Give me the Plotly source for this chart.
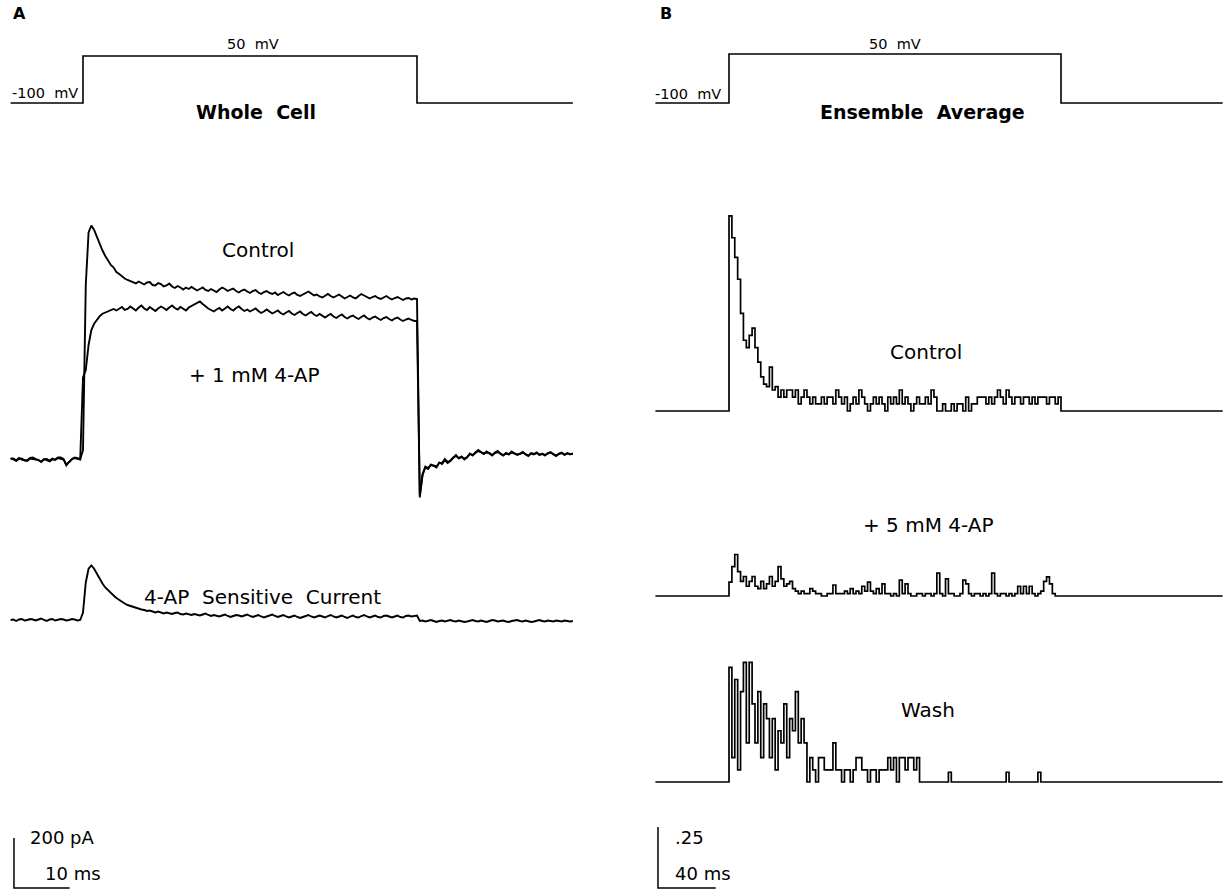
import plotly.graph_objects as go

W, H = 1229, 890
FONT = "DejaVu Sans"
NB = "\u00a0"

# ---------------- Panel A: whole-cell currents (pA), 0.5 ms samples ----------------
A_T0 = -13.0          # first sample, ms relative to step onset
A_DT = 0.5            # sample interval, ms
A_STEP_ON, A_STEP_OFF = 0.0, 60.0
HOLD_MV, STEP_MV = -100, 50

control_a = [
    # holding at -100 mV
    8, 2, -4, 4, 6, -2, 0, 8, 10, 4, -2, -6, 4, 0, -6, 2, 2, 10, 10, 4,
    -22, -8, 4, 10, 8, 4,
    # step to +50 mV
    40, 700, 910, 938, 920, 890, 862, 838, 816, 800,
    780, 770, 752, 744, 733, 726, 720, 716, 712, 706,
    714, 708, 702, 710, 712, 700, 698, 708, 704, 694,
    698, 706, 694, 688, 696, 690, 682, 690, 684, 692,
    686, 678, 684, 690, 680, 676, 684, 678, 672, 682,
    690, 684, 676, 682, 686, 676, 670, 678, 682, 674,
    668, 676, 680, 670, 664, 672, 676, 668, 664, 670,
    660, 666, 672, 664, 658, 666, 670, 660, 656, 662,
    668, 674, 666, 658, 662, 654, 650, 658, 664, 656,
    650, 656, 662, 654, 646, 652, 658, 650, 646, 656,
    664, 658, 652, 646, 652, 656, 648, 644, 650, 656,
    648, 642, 648, 652, 646, 640, 646, 648, 642, 646,
    644,
    # back to -100 mV
    -150, -60, -30, -36, -18, -24, -30, -10, -16, 0,
    -12, -4, 8, 20, 6, 14, 2, 10, 26, 18,
    30, 40, 32, 24, 34, 26, 18, 30, 36, 24,
    18, 28, 22, 34, 28, 20, 26, 32, 22, 16,
    28, 24, 30, 20, 26, 18, 28, 32, 22, 16,
    26, 30, 20, 28, 22, 26,
]

ap1mm_a = [
    4, 6, -2, 8, 2, 0, -4, 6, 4, 2, 0, -8, 2, 4, -2, 6, 0, 8, 6, 2,
    -18, -6, 2, 8, 6, 2,
    330, 360, 460, 520, 545, 562, 575, 585, 590, 596,
    598, 604, 598, 606, 612, 600, 604, 614, 606, 598,
    610, 618, 606, 600, 612, 604, 596, 606, 614, 608,
    600, 610, 618, 608, 602, 612, 604, 598, 610, 616,
    622, 630, 634, 624, 614, 606, 600, 594, 602, 608,
    598, 606, 614, 604, 598, 608, 614, 604, 596, 602,
    594, 600, 606, 596, 588, 594, 602, 594, 586, 592,
    598, 588, 582, 590, 596, 586, 580, 588, 594, 584,
    578, 586, 592, 582, 576, 584, 578, 570, 578, 584,
    574, 568, 576, 582, 572, 566, 574, 578, 570, 564,
    572, 578, 568, 562, 570, 574, 566, 560, 568, 572,
    564, 558, 566, 570, 562, 556, 562, 566, 560, 556,
    556,
    -140, -56, -26, -32, -20, -22, -26, -12, -12, 4,
    -8, -2, 10, 16, 8, 12, 6, 12, 24, 20,
    28, 36, 30, 26, 30, 28, 20, 28, 32, 26,
    20, 26, 24, 30, 26, 22, 24, 30, 24, 18,
    26, 22, 28, 22, 24, 20, 26, 30, 24, 18,
    24, 28, 22, 26, 24, 24,
]

sensitive_a = [
    0, 2, -4, 2, 4, -2, 0, 4, 2, -2, 2, 6, 0, -4, 2, 4, -2, 0, 4, 2,
    -2, 0, 4, 2, -2, 0,
    30, 150, 205, 218, 205, 185, 164, 146, 130, 118,
    108, 98, 88, 80, 72, 66, 60, 56, 52, 48,
    46, 42, 40, 36, 38, 34, 30, 34, 30, 26,
    30, 28, 24, 28, 30, 24, 22, 26, 22, 20,
    24, 22, 18, 22, 26, 20, 16, 20, 18, 14,
    18, 22, 16, 12, 16, 20, 18, 14, 18, 22,
    16, 12, 16, 20, 14, 10, 14, 18, 22, 16,
    12, 16, 20, 14, 10, 14, 18, 12, 8, 12,
    16, 20, 14, 10, 14, 18, 14, 10, 16, 20,
    14, 10, 14, 18, 12, 8, 14, 18, 12, 10,
    16, 20, 14, 10, 14, 18, 12, 10, 16, 18,
    14, 10, 14, 18, 12, 10, 16, 18, 14, 16,
    18,
    -4, -2, -6, -4, 0, -4, -8, -4, -2, -6,
    -2, 0, -4, -6, -2, -4, -8, -6, -2, 0,
    -4, -6, -2, -6, -8, -4, 0, -2, -6, -4,
    -2, -6, -8, -4, -2, 0, -4, -6, -2, -4,
    -8, -6, -2, 0, -4, -6, -2, -4, -6, -2,
    -4, -6, -2, -4, -6, -4,
]

# ------------- Panel B: ensemble-average open probability, 2 ms bins -------------
B_REC_START, B_REC_END = -51.0, 342.0
B_STEP_ON, B_STEP_OFF = 0.0, 230.0
B_DT = 2.0

control_b = [
    0.80, 0.71, 0.63, 0.54, 0.40, 0.29, 0.26, 0.31, 0.34, 0.26,
    0.20, 0.14, 0.11, 0.10, 0.18, 0.086, 0.10, 0.057, 0.086, 0.057,
    0.086, 0.086, 0.057, 0.086, 0.029, 0.057, 0.086, 0.057, 0.029, 0.057,
    0.029, 0.029, 0.057, 0.029, 0.057, 0.057, 0.029, 0.086, 0.057, 0.029,
    0.057, 0.0, 0.029, 0.057, 0.029, 0.086, 0.057, 0.029, 0.0, 0.029,
    0.057, 0.029, 0.057, 0.029, 0.0, 0.057, 0.029, 0.057, 0.029, 0.086,
    0.029, 0.057, 0.029, 0.0, 0.029, 0.057, 0.029, 0.029, 0.057, 0.029,
    0.086, 0.057, 0.0, 0.0, 0.029, 0.0, 0.0, 0.029, 0.0, 0.029,
    0.029, 0.0, 0.057, 0.0, 0.029, 0.029, 0.057, 0.057, 0.057, 0.029,
    0.057, 0.029, 0.057, 0.086, 0.057, 0.029, 0.086, 0.057, 0.029, 0.057,
    0.057, 0.029, 0.057, 0.057, 0.029, 0.057, 0.029, 0.057, 0.057, 0.057,
    0.029, 0.057, 0.057, 0.029, 0.057, 0.0,
]

ap5mm_b = [
    0.057, 0.12, 0.17, 0.10, 0.06, 0.08, 0.04, 0.06, 0.08, 0.04,
    0.03, 0.06, 0.03, 0.05, 0.08, 0.04, 0.06, 0.12, 0.07, 0.04,
    0.05, 0.06, 0.03, 0.02, 0.01, 0.02, 0.01, 0.01, 0.03, 0.02,
    0.01, 0.01, 0.0, 0.0, 0.01, 0.01, 0.045, 0.01, 0.01, 0.01,
    0.02, 0.01, 0.03, 0.01, 0.02, 0.01, 0.04, 0.02, 0.057, 0.02,
    0.01, 0.03, 0.01, 0.05, 0.01, 0.01, 0.0, 0.01, 0.0, 0.065,
    0.01, 0.05, 0.01, 0.0, 0.0, 0.01, 0.01, 0.0, 0.01, 0.01,
    0.0, 0.01, 0.094, 0.01, 0.0, 0.07, 0.01, 0.01, 0.0, 0.0,
    0.01, 0.065, 0.05, 0.01, 0.0, 0.01, 0.01, 0.0, 0.01, 0.0,
    0.01, 0.094, 0.01, 0.0, 0.01, 0.01, 0.0, 0.01, 0.0, 0.01,
    0.04, 0.01, 0.04, 0.01, 0.04, 0.01, 0.0, 0.01, 0.02, 0.06,
    0.078, 0.05, 0.01, 0.0, 0.0, 0.0,
]

wash_b = [
    0.47, 0.10, 0.42, 0.05, 0.37, 0.49, 0.16, 0.49, 0.32, 0.16,
    0.37, 0.10, 0.32, 0.26, 0.10, 0.26, 0.05, 0.21, 0.16, 0.32,
    0.10, 0.26, 0.21, 0.37, 0.16, 0.26, 0.16, 0.0, 0.10, 0.05,
    0.0, 0.10, 0.10, 0.05, 0.05, 0.05, 0.16, 0.05, 0.05, 0.0,
    0.05, 0.05, 0.0, 0.05, 0.10, 0.10, 0.05, 0.05, 0.0, 0.05,
    0.05, 0.0, 0.05, 0.05, 0.05, 0.10, 0.05, 0.10, 0.0, 0.10,
    0.10, 0.05, 0.10, 0.10, 0.05, 0.10, 0.0, 0.0, 0.0, 0.0,
    0.0, 0.0, 0.0, 0.0, 0.0, 0.0, 0.04, 0.0, 0.0, 0.0,
    0.0, 0.0, 0.0, 0.0, 0.0, 0.0, 0.0, 0.0, 0.0, 0.0,
    0.0, 0.0, 0.0, 0.0, 0.0, 0.0, 0.04, 0.0, 0.0, 0.0,
    0.0, 0.0, 0.0, 0.0, 0.0, 0.0, 0.0, 0.04, 0.0, 0.0,
    0.0, 0.0, 0.0, 0.0, 0.0, 0.0,
]

# scale bars
A_BAR_PA, A_BAR_MS = 200, 10
B_BAR_P, B_BAR_MS = 0.25, 40
A_BAR_T = -12.4     # ms, left end of the panel A bar
B_BAR_T = -49.2     # ms, left end of the panel B bar


# ---------------- axis helpers (pixel layout -> domain / range) ----------------
def x_axis(px0, px1, v1, p1, v2, p2):
    k = (p2 - p1) / (v2 - v1)
    return dict(domain=[px0 / W, px1 / W],
                range=[v1 + (px0 - p1) / k, v1 + (px1 - p1) / k],
                visible=False, fixedrange=True)


def y_axis(py_top, py_bot, v1, p1, v2, p2, anchor):
    k = (p1 - p2) / (v2 - v1)          # pixels per unit, upward
    return dict(domain=[1 - py_bot / H, 1 - py_top / H],
                range=[v1 - (py_bot - p1) / k, v1 + (p1 - py_top) / k],
                visible=False, fixedrange=True, anchor=anchor)


def line(x, y, xa, ya, width=2.0, shape="linear"):
    return go.Scatter(x=x, y=y, xaxis=xa, yaxis=ya, mode="lines",
                      line=dict(color="black", width=width, shape=shape),
                      hoverinfo="skip", showlegend=False)


fig = go.Figure()

# ---- panel A ----
t_a = [A_T0 + i * A_DT for i in range(len(control_a))]
a_end = t_a[-1]
fig.add_trace(line([A_T0, A_STEP_ON, A_STEP_ON, A_STEP_OFF, A_STEP_OFF, a_end],
                   [HOLD_MV, HOLD_MV, STEP_MV, STEP_MV, HOLD_MV, HOLD_MV],
                   "x", "y", 1.6))
fig.add_trace(line(t_a, control_a, "x", "y2", 1.9))
fig.add_trace(line(t_a, ap1mm_a, "x", "y2", 1.9))
fig.add_trace(line(t_a, sensitive_a, "x", "y3", 1.9))
fig.add_trace(line([A_BAR_T, A_BAR_T, A_BAR_T + A_BAR_MS], [A_BAR_PA, 0, 0],
                   "x", "y4", 1.5))

# ---- panel B ----
t_b = [B_STEP_ON + i * B_DT for i in range(len(control_b))]
bx = [B_REC_START] + t_b + [B_REC_END]
fig.add_trace(line([B_REC_START, B_STEP_ON, B_STEP_ON, B_STEP_OFF, B_STEP_OFF, B_REC_END],
                   [HOLD_MV, HOLD_MV, STEP_MV, STEP_MV, HOLD_MV, HOLD_MV],
                   "x2", "y5", 1.6))
for vals, ya in ((control_b, "y6"), (ap5mm_b, "y7"), (wash_b, "y8")):
    fig.add_trace(line(bx, [0.0] + vals + [0.0], "x2", ya, 1.7, "hv"))
fig.add_trace(line([B_BAR_T, B_BAR_T, B_BAR_T + B_BAR_MS], [B_BAR_P, 0, 0],
                   "x2", "y9", 1.5))


def label(text, px, py, size, bold=False, xanchor="center"):
    return dict(text=f"<b>{text}</b>" if bold else text,
                x=px / W, y=1 - py / H, xref="paper", yref="paper",
                showarrow=False, xanchor=xanchor, yanchor="middle",
                font=dict(family=FONT, size=size, color="black"))


annotations = [
    label("A", 19, 14, 16, bold=True),
    label("50" + NB + NB + "mV", 253, 44, 14.5),
    label("-100" + NB + NB + "mV", 10, 93, 14.5, xanchor="left"),
    label("Whole" + NB + NB + "Cell", 256, 112, 19, bold=True),
    label("Control", 258, 250, 20),
    label("+" + NB + "1" + NB + "mM" + NB + "4-AP", 255, 375, 20),
    label("4-AP" + NB + NB + "Sensitive" + NB + NB + "Current", 262, 597, 20),
    label("200" + NB + "pA", 28, 837, 18, xanchor="left"),
    label("10" + NB + "ms", 43, 873, 18, xanchor="left"),

    label("B", 666, 14, 16, bold=True),
    label("50" + NB + NB + "mV", 895, 44, 14.5),
    label("-100" + NB + NB + "mV", 653, 94, 14.5, xanchor="left"),
    label("Ensemble" + NB + NB + "Average", 922, 112, 19, bold=True),
    label("Control", 926, 352, 20),
    label("+" + NB + "5" + NB + "mM" + NB + "4-AP", 928, 525, 20),
    label("Wash", 928, 710, 20),
    label(".25", 673, 837, 18, xanchor="left"),
    label("40" + NB + "ms", 673, 873, 18, xanchor="left"),
]

fig.update_layout(
    width=W, height=H,
    margin=dict(l=0, r=0, t=0, b=0),
    paper_bgcolor="white", plot_bgcolor="white",
    showlegend=False,
    annotations=annotations,
    xaxis=x_axis(0, 612, 0, 83, 60, 417),
    xaxis2=x_axis(614, 1229, 0, 729, 230, 1061),
    yaxis=y_axis(28, 125, -100, 103, 50, 56, "x"),
    yaxis2=y_axis(190, 530, 0, 460, 200, 410, "x"),
    yaxis3=y_axis(540, 660, 0, 620, 200, 570, "x"),
    yaxis4=y_axis(800, 890, 0, 888, 200, 838, "x"),
    yaxis5=y_axis(28, 125, -100, 103, 50, 54, "x2"),
    yaxis6=y_axis(190, 430, 0, 411, 0.25, 350, "x2"),
    yaxis7=y_axis(480, 610, 0, 596, 0.25, 535, "x2"),
    yaxis8=y_axis(620, 795, 0, 782, 0.25, 721, "x2"),
    yaxis9=y_axis(800, 890, 0, 888, 0.25, 827, "x2"),
)

fig.write_html("out.html")
